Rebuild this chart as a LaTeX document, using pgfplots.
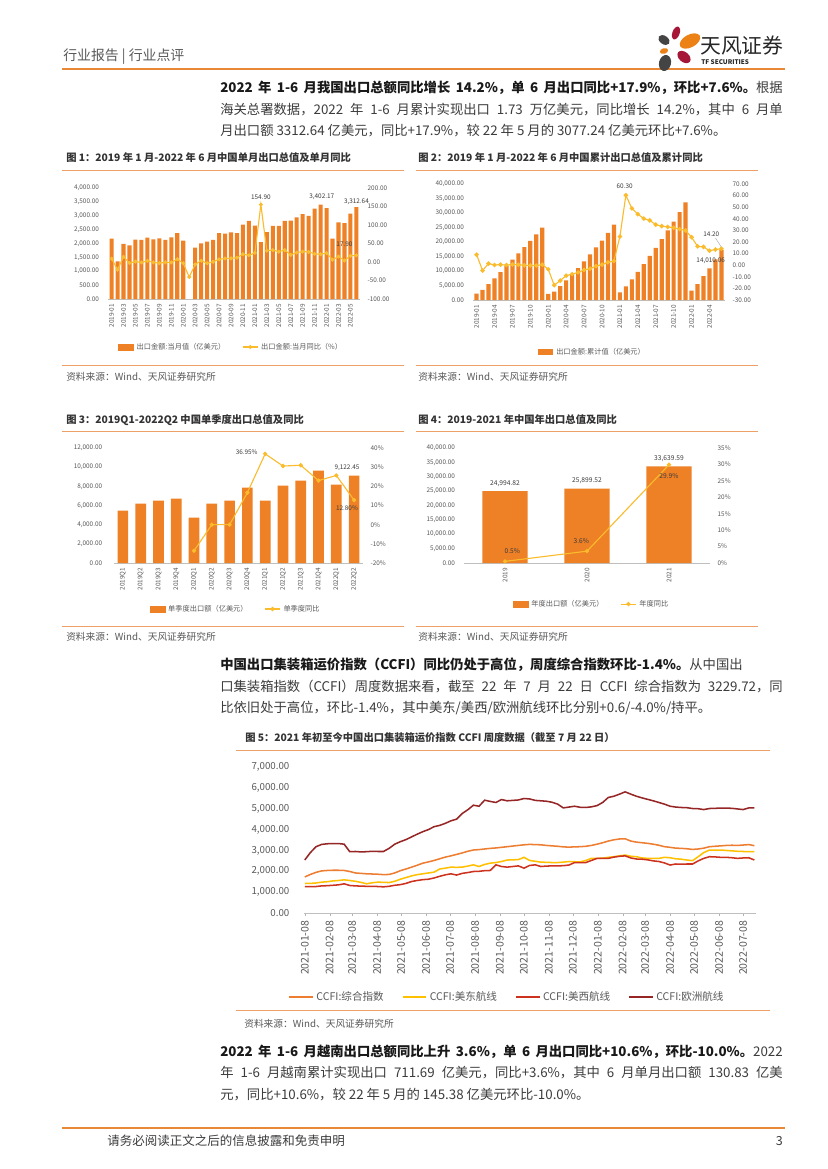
\documentclass[border=0pt]{standalone}
\usepackage{fontspec}
\setmainfont{Noto Sans CJK SC}
\usepackage{pgfplots}
\pgfplotsset{compat=1.18}
\XeTeXlinebreaklocale "zh"
\XeTeXlinebreakskip=0pt plus 1.5pt
\definecolor{barorange}{RGB}{238,128,38}
\definecolor{lineyellow}{RGB}{250,188,45}
\definecolor{hdrorange}{RGB}{233,137,56}
\definecolor{lightorange}{RGB}{238,160,105}
\definecolor{txtgray}{RGB}{89,89,89}
\definecolor{bodygray}{RGB}{60,60,60}
\definecolor{ccfiorange}{RGB}{237,125,49}
\definecolor{ccfiyellow}{RGB}{255,192,0}
\definecolor{ccfired}{RGB}{205,50,30}
\definecolor{ccfidark}{RGB}{150,38,38}
\definecolor{logocrimson}{RGB}{165,22,55}
\definecolor{logoorange}{RGB}{236,130,22}
\definecolor{logogray}{RGB}{68,68,68}
\newcommand\fs[1]{\fontsize{#1}{#1}\selectfont}
\pgfplotsset{
  mybase/.style={scale only axis, anchor=south west, tick style={draw=none},
    ticklabel style={text=txtgray}, y axis line style={draw=none},
    scaled y ticks=false, clip=false, /pgf/number format/assume math mode=true},
  numlab/.style={yticklabel style={/pgf/number format/fixed, /pgf/number format/fixed zerofill,
    /pgf/number format/precision=2, /pgf/number format/1000 sep={,}}},
  pctlab/.style={yticklabel={\pgfmathprintnumber[fixed,precision=0,assume math mode=true]{\tick}\%}},
  shortline/.style={legend image code/.code={\draw[mark repeat=2,mark phase=2,##1] plot coordinates {(0pt,0pt) (5.5pt,0pt) (11pt,0pt)};}},
  barleg/.style={legend image code/.code={\fill[barorange] (0pt,-2.2pt) rectangle (11pt,2.2pt);}},
  smalleg/.style={legend style={font=\fs{5.2}, text=txtgray, draw=none, fill=none, inner sep=0pt,
    anchor=center, /tikz/every even column/.append style={column sep=10pt}, cells={anchor=west}}},
}
\begin{document}
\begin{tikzpicture}[x=0.72pt,y=-0.72pt]
\fill[white] (0,0) rectangle (827,1169);
% ---------- header ----------
\node[anchor=west,inner sep=0,font=\fs{10},text=txtgray] at (63,57) {行业报告 | 行业点评};
\draw[hdrorange,line width=1.2pt] (62,69) -- (785,69);
\fill[logocrimson,rotate around={-20:(676,33)}] (676,33) ellipse [x radius=2.6pt, y radius=4.8pt];
\fill[logoorange,rotate around={28:(690,41)}] (690,41) ellipse [x radius=8pt, y radius=4.6pt];
\fill[logogray,rotate around={-35:(664,40)}] (664,40) ellipse [x radius=4.5pt, y radius=3pt];
\fill[logoorange,rotate around={15:(664,51)}] (664,51) ellipse [x radius=3pt, y radius=2pt];
\fill[logocrimson,rotate around={-40:(684,57)}] (684,57) ellipse [x radius=5.4pt, y radius=3.6pt];
\fill[logogray,rotate around={-15:(665,63)}] (665,63) ellipse [x radius=4.3pt, y radius=5.8pt];
\node[anchor=west,inner sep=0,font=\fs{15},text=black!85] at (700,46) {天风证券};
\node[anchor=west,inner sep=0,font=\fs{4.6}\bfseries,text=black!85] at (701,62) {TF SECURITIES};
% ---------- paragraph 1 ----------
\node[anchor=west,inner sep=0,font=\fs{9.6},text=bodygray] at (220,88) {\makebox[405pt][s]{\textcolor{black!90}{\bfseries 2022 年 1-6 月我国出口总额同比增长 14.2\%，单 6 月出口同比+17.9\%，环比+7.6\%。}根据}};
\node[anchor=west,inner sep=0,font=\fs{9.6},text=bodygray] at (220,110) {\makebox[405pt][s]{海关总署数据，2022 年 1-6 月累计实现出口 1.73 万亿美元，同比增长 14.2\%，其中 6 月单}};
\node[anchor=west,inner sep=0,font=\fs{9.6},text=bodygray] at (220,131) {月出口额 3312.64 亿美元，同比+17.9\%，较 22 年 5 月的 3077.24 亿美元环比+7.6\%。};
% ---------- titles row 1 ----------
\node[anchor=west,inner sep=0,font=\fs{7.4}\bfseries,text=black!80] at (66,158) {图 1：2019 年 1 月-2022 年 6 月中国单月出口总值及单月同比};
\node[anchor=west,inner sep=0,font=\fs{7.4}\bfseries,text=black!80] at (418,158) {图 2：2019 年 1 月-2022 年 6 月中国累计出口总值及累计同比};
\draw[lightorange,line width=0.6pt] (62,170) -- (404,170);
\draw[lightorange,line width=0.6pt] (416,170) -- (758,170);
\draw[lightorange,line width=0.6pt] (62,365) -- (404,365);
\draw[lightorange,line width=0.6pt] (416,365) -- (758,365);
\node[anchor=west,inner sep=0,font=\fs{7},text=txtgray] at (66,377) {资料来源：Wind、天风证券研究所};
\node[anchor=west,inner sep=0,font=\fs{7},text=txtgray] at (418,377) {资料来源：Wind、天风证券研究所};
% ---------- titles row 2 ----------
\node[anchor=west,inner sep=0,font=\fs{7.4}\bfseries,text=black!80] at (66,420) {图 3：2019Q1-2022Q2 中国单季度出口总值及同比};
\node[anchor=west,inner sep=0,font=\fs{7.4}\bfseries,text=black!80] at (418,420) {图 4：2019-2021 年中国年出口总值及同比};
\draw[lightorange,line width=0.6pt] (62,431) -- (404,431);
\draw[lightorange,line width=0.6pt] (416,431) -- (758,431);
\draw[lightorange,line width=0.6pt] (62,626) -- (404,626);
\draw[lightorange,line width=0.6pt] (416,626) -- (758,626);
\node[anchor=west,inner sep=0,font=\fs{7},text=txtgray] at (66,637) {资料来源：Wind、天风证券研究所};
\node[anchor=west,inner sep=0,font=\fs{7},text=txtgray] at (418,637) {资料来源：Wind、天风证券研究所};
% ---------- paragraph 2 ----------
\node[anchor=west,inner sep=0,font=\fs{9.6},text=bodygray] at (220,665) {\makebox[405pt][s]{\textcolor{black!90}{\bfseries 中国出口集装箱运价指数（CCFI）同比仍处于高位，周度综合指数环比-1.4\%。}从中国出}};
\node[anchor=west,inner sep=0,font=\fs{9.6},text=bodygray] at (220,686) {\makebox[405pt][s]{口集装箱指数（CCFI）周度数据来看，截至 22 年 7 月 22 日 CCFI 综合指数为 3229.72，同}};
\node[anchor=west,inner sep=0,font=\fs{9.6},text=bodygray] at (220,708) {比依旧处于高位，环比-1.4\%，其中美东/美西/欧洲航线环比分别+0.6/-4.0\%/持平。};
% ---------- fig 5 title ----------
\node[anchor=west,inner sep=0,font=\fs{7.4}\bfseries,text=black!80] at (245,738) {图 5：2021 年初至今中国出口集装箱运价指数 CCFI 周度数据（截至 7 月 22 日）};
\draw[lightorange,line width=0.6pt] (236,750) -- (770,750);
\draw[lightorange,line width=0.6pt] (236,1010) -- (770,1010);
\node[anchor=west,inner sep=0,font=\fs{7},text=txtgray] at (244,1024) {资料来源：Wind、天风证券研究所};
% ---------- paragraph 3 ----------
\node[anchor=west,inner sep=0,font=\fs{9.6},text=bodygray] at (220,1052) {\makebox[405pt][s]{\textcolor{black!90}{\bfseries 2022 年 1-6 月越南出口总额同比上升 3.6\%，单 6 月出口同比+10.6\%，环比-10.0\%。}2022}};
\node[anchor=west,inner sep=0,font=\fs{9.6},text=bodygray] at (220,1073) {\makebox[405pt][s]{年 1-6 月越南累计实现出口 711.69 亿美元，同比+3.6\%，其中 6 月单月出口额 130.83 亿美}};
\node[anchor=west,inner sep=0,font=\fs{9.6},text=bodygray] at (220,1095) {元，同比+10.6\%，较 22 年 5 月的 145.38 亿美元环比-10.0\%。};
% ---------- footer ----------
\draw[hdrorange,line width=1.4pt] (62,1128) -- (785,1128);
\node[anchor=west,inner sep=0,font=\fs{9},text=bodygray] at (107,1141) {请务必阅读正文之后的信息披露和免责申明};
\node[anchor=east,inner sep=0,font=\fs{9},text=bodygray] at (783,1141) {3};

% ================= Chart 1 =================
\begin{axis}[mybase, numlab, at={(77.76pt,-215.28pt)}, width=181.44pt, height=79.92pt,
  xmin=0.4, xmax=42.6, ymin=0, ymax=4000, ytick={0,500,...,4000},
  axis x line*=bottom, axis y line*=left, x axis line style={draw=gray!50,-},
  xtick={1,3,...,41},
  xticklabels={2019-01,2019-03,2019-05,2019-07,2019-09,2019-11,2020-01,2020-03,2020-05,2020-07,2020-09,2020-11,2021-01,2021-03,2021-05,2021-07,2021-09,2021-11,2022-01,2022-03,2022-05},
  xticklabel style={rotate=90, anchor=east, font=\fs{4.6}},
  yticklabel style={font=\fs{4.6}, xshift=-3pt}]
\addplot[ybar, bar width=0.68, fill=barorange, draw=none] coordinates {
(1,2175) (2,1354) (3,1986) (4,1932) (5,2138) (6,2128) (7,2215) (8,2148) (9,2182) (10,2129) (11,2217) (12,2377)
(13,2100) (15,1851) (16,2003) (17,2068) (18,2135) (19,2374) (20,2354) (21,2397) (22,2371) (23,2680) (24,2819)
(25,2640) (26,2050) (27,2413) (28,2639) (29,2639) (30,2814) (31,2826) (32,2943) (33,3057) (34,2997) (35,3254) (36,3402.17)
(37,3273) (38,2173) (39,2761) (40,2736) (41,3077.24) (42,3312.64)};
\node[font=\fs{4.6},text=bodygray] at (axis cs:36.2,3675) {3,402.17};
\node[font=\fs{4.6},text=bodygray] at (axis cs:42,3494) {3,312.64};
\end{axis}
\begin{axis}[mybase, numlab, smalleg, at={(77.76pt,-215.28pt)}, width=181.44pt, height=79.92pt,
  xmin=0.4, xmax=42.6, ymin=-100, ymax=200, ytick={-100,-50,...,200},
  axis y line*=right, axis x line=none,
  yticklabel style={font=\fs{4.6}, xshift=2pt},
  legend style={at={(0.49,-0.432)}}, legend columns=2]
\addlegendimage{barleg}
\addlegendentry{出口金额:当月值（亿美元）}
\addplot[lineyellow, line width=0.8pt, mark=*, mark size=1pt, shortline] coordinates {
(1,9.1) (2,-20.7) (3,14.2) (4,-2.7) (5,1.1) (6,-1.3) (7,3.3) (8,-1.0) (9,-3.2) (10,-0.9) (11,-1.1) (12,7.6)
(13,-3.5) (14,-40.6) (15,-6.6) (16,3.5) (17,-3.3) (18,0.5) (19,7.2) (20,9.5) (21,9.9) (22,11.4) (23,21.1) (24,18.1)
(25,24.7) (26,154.9) (27,30.6) (28,32.3) (29,27.9) (30,32.2) (31,19.3) (32,25.6) (33,28.1) (34,27.1) (35,22.0) (36,20.9)
(37,24.1) (38,6.2) (39,14.7) (40,3.9) (41,16.9) (42,17.9)};
\addlegendentry{出口金额:当月同比（\%）}
\node[font=\fs{4.6},text=bodygray] at (axis cs:26,174) {154.90};
\node[font=\fs{4.6},text=bodygray] at (axis cs:40,48.6) {17.90};
\end{axis}

% ================= Chart 2 =================
\begin{axis}[mybase, numlab, smalleg, at={(340.56pt,-216pt)}, width=181.44pt, height=83.52pt,
  xmin=0.4, xmax=42.6, ymin=0, ymax=40000, ytick={0,5000,...,40000},
  axis x line*=bottom, axis y line*=left, x axis line style={draw=gray!50,-},
  xtick={1,4,...,40},
  xticklabels={2019-01,2019-04,2019-07,2019-10,2020-01,2020-04,2020-07,2020-10,2021-01,2021-04,2021-07,2021-10,2022-01,2022-04},
  xticklabel style={rotate=90, anchor=east, font=\fs{4.6}},
  yticklabel style={font=\fs{4.6}, xshift=-3pt},
  legend style={at={(0.476,-0.448)}}]
\addplot[ybar, bar width=0.7, fill=barorange, draw=none, barleg] coordinates {
(1,2175) (2,3529) (3,5515) (4,7447) (5,9585) (6,11713) (7,13928) (8,16076) (9,18258) (10,20387) (11,22604) (12,24984)
(13,2100) (14,2924) (15,4775) (16,6781) (17,8849) (18,10984) (19,13358) (20,15711) (21,18108) (22,20479) (23,23159) (24,25978)
(25,2640) (26,4687) (27,7100) (28,9739) (29,12378) (30,15192) (31,18018) (32,20961) (33,24018) (34,27015) (35,30269) (36,33671)
(37,3273) (38,5446) (39,8207) (40,10943) (41,14010.06) (42,17323)};
\addlegendentry{出口金额:累计值（亿美元）}
\node[font=\fs{4.6},text=bodygray] at (axis cs:40.2,13563) {14,010.06};
\end{axis}
\begin{axis}[mybase, numlab, at={(340.56pt,-216pt)}, width=181.44pt, height=83.52pt,
  xmin=0.4, xmax=42.6, ymin=-30, ymax=70, ytick={-30,-20,...,70},
  axis y line*=right, axis x line=none,
  yticklabel style={font=\fs{4.6}, xshift=2pt}]
\addplot[lineyellow, line width=0.8pt, mark=*, mark size=1.2pt] coordinates {
(1,9.1) (2,-4.6) (3,1.4) (4,0.2) (5,0.5) (6,0.1) (7,0.6) (8,0.4) (9,-0.1) (10,-0.2) (11,-0.3) (12,0.5)
(13,-3.5) (14,-17.2) (15,-13.3) (16,-9.0) (17,-7.7) (18,-6.2) (19,-4.1) (20,-3.0) (21,-0.8) (22,0.5) (23,2.5) (24,3.6)
(25,24.7) (26,60.3) (27,49.0) (28,44.0) (29,40.2) (30,38.6) (31,35.0) (32,33.7) (33,33.0) (34,32.3) (35,31.1) (36,29.9)
(37,24.1) (38,16.3) (39,15.8) (40,12.5) (41,13.5) (42,14.2)};
\node[font=\fs{4.6},text=bodygray] at (axis cs:25.8,68.3) {60.30};
\node[font=\fs{4.6},text=bodygray] at (axis cs:40.3,26.3) {14.20};
\draw[gray!70,line width=0.3pt] (axis cs:41,23.5) -- (axis cs:42,15.5);
\end{axis}

% ================= Chart 3 =================
\begin{axis}[mybase, numlab, at={(82.08pt,-405.36pt)}, width=179.28pt, height=82.8pt,
  xmin=0.5, xmax=14.5, ymin=0, ymax=12000, ytick={0,2000,...,12000},
  axis x line*=bottom, axis y line*=left, x axis line style={draw=gray!50,-},
  xtick={1,...,14},
  xticklabels={2019Q1,2019Q2,2019Q3,2019Q4,2020Q1,2020Q2,2020Q3,2020Q4,2021Q1,2021Q2,2021Q3,2021Q4,2022Q1,2022Q2},
  xticklabel style={rotate=90, anchor=east, font=\fs{4.6}},
  yticklabel style={font=\fs{4.6}, xshift=-5pt}]
\addplot[ybar, bar width=0.6, fill=barorange, draw=none] coordinates {
(1,5460) (2,6190) (3,6500) (4,6710) (5,4730) (6,6190) (7,6500) (8,7860) (9,6500) (10,8070) (11,8590) (12,9630) (13,8170) (14,9122.45)};
\node[font=\fs{4.6},text=bodygray] at (axis cs:13.6,9913) {9,122.45};
\end{axis}
\begin{axis}[mybase, smalleg, at={(82.08pt,-405.36pt)}, width=179.28pt, height=82.8pt,
  xmin=0.5, xmax=14.5, ymin=-20, ymax=40, ytick={-20,-10,...,40}, pctlab,
  axis y line*=right, axis x line=none,
  yticklabel style={font=\fs{4.6}, xshift=2pt},
  legend style={at={(0.49,-0.40)}}, legend columns=2]
\addlegendimage{barleg}
\addlegendentry{单季度出口额（亿美元）}
\addplot[lineyellow, line width=0.8pt, mark=*, mark size=1.1pt, shortline] coordinates {
(5,-13.6) (6,0) (7,0) (8,16.7) (9,36.95) (10,30.6) (11,31.0) (12,23.0) (13,25.7) (14,12.8)};
\addlegendentry{单季度同比}
\node[font=\fs{4.6},text=bodygray] at (axis cs:7.96,37.7) {36.95\%};
\node[font=\fs{4.6},text=bodygray] at (axis cs:13.6,8.7) {12.80\%};
\end{axis}

% ================= Chart 4 =================
\begin{axis}[mybase, numlab, at={(334.08pt,-405.36pt)}, width=177.12pt, height=82.8pt,
  xmin=0.5, xmax=3.5, ymin=0, ymax=40000, ytick={0,5000,...,40000},
  axis x line*=bottom, axis y line*=left, x axis line style={draw=gray!50,-},
  xtick={1,2,3}, xticklabels={2019,2020,2021},
  xticklabel style={rotate=90, anchor=east, font=\fs{4.6}},
  yticklabel style={font=\fs{4.6}, xshift=-3pt}]
\addplot[ybar, bar width=0.55, fill=barorange, draw=none] coordinates {(1,24994.82) (2,25899.52) (3,33639.59)};
\node[font=\fs{4.8},text=bodygray] at (axis cs:1,27666) {24,994.82};
\node[font=\fs{4.8},text=bodygray] at (axis cs:2,28473) {25,899.52};
\node[font=\fs{4.8},text=bodygray] at (axis cs:3,36311) {33,639.59};
\end{axis}
\begin{axis}[mybase, smalleg, at={(334.08pt,-405.36pt)}, width=177.12pt, height=82.8pt,
  xmin=0.5, xmax=3.5, ymin=0, ymax=35, ytick={0,5,...,35}, pctlab,
  axis y line*=right, axis x line=none,
  yticklabel style={font=\fs{4.6}, xshift=2pt},
  legend style={at={(0.52,-0.357)}}, legend columns=2]
\addlegendimage{barleg}
\addlegendentry{年度出口额（亿美元）}
\addplot[lineyellow, line width=0.8pt, mark=*, mark size=1.1pt, shortline] coordinates {(1,0.5) (2,3.6) (3,29.9)};
\addlegendentry{年度同比}
\node[font=\fs{4.8},text=bodygray] at (axis cs:1.09,3.5) {0.5\%};
\node[font=\fs{4.8},text=bodygray] at (axis cs:1.93,6.6) {3.6\%};
\node[font=\fs{4.8},text=bodygray] at (axis cs:3,26.5) {29.9\%};
\end{axis}

% ================= Chart 5 =================
\begin{axis}[mybase, numlab, at={(218.88pt,-657.36pt)}, width=325.44pt, height=105.12pt,
  xmin=-1, xmax=562, ymin=0, ymax=7000, ytick={0,1000,...,7000},
  axis x line*=bottom, axis y line*=left, x axis line style={draw=gray!50,-},
  xtick={0,31,59,90,120,151,181,212,243,273,304,334,365,396,424,455,485,516,546},
  xticklabels={2021-01-08,2021-02-08,2021-03-08,2021-04-08,2021-05-08,2021-06-08,2021-07-08,2021-08-08,2021-09-08,2021-10-08,2021-11-08,2021-12-08,2022-01-08,2022-02-08,2022-03-08,2022-04-08,2022-05-08,2022-06-08,2022-07-08},
  xtick style={draw=gray!60}, major tick length=2pt, tick align=outside,
  xticklabel style={rotate=90, anchor=east, font=\fs{7.6}},
  yticklabel style={font=\fs{7}, xshift=-5pt},
  legend style={at={(0.45,-0.575)}, anchor=center, font=\fs{7.6}, text=txtgray, draw=none, fill=none, inner sep=0pt,
    /tikz/every even column/.append style={column sep=11pt}, cells={anchor=west}},
  legend columns=4]
\addplot[ccfiorange, line width=1.1pt] coordinates {
(0,1730) (7,1850) (14,1950) (21,2020) (28,2040) (35,2050) (42,2050) (49,2040) (56,1990) (63,1920) (70,1900) (77,1880) (84,1870) (91,1860) (98,1840) (105,1850) (112,1920) (119,2030) (126,2110) (133,2200) (140,2290) (147,2390) (154,2450) (161,2520) (168,2600) (175,2680) (182,2740) (189,2810) (196,2880) (203,2960) (210,3020) (217,3040) (224,3070) (231,3100) (238,3120) (245,3150) (252,3180) (259,3210) (266,3240) (273,3270) (280,3290) (287,3280) (294,3270) (301,3240) (308,3220) (315,3200) (322,3170) (329,3160) (336,3170) (343,3180) (350,3200) (357,3240) (364,3300) (371,3370) (378,3450) (385,3510) (392,3550) (399,3560) (406,3450) (413,3400) (420,3370) (427,3340) (434,3300) (441,3250) (448,3180) (455,3150) (462,3110) (469,3100) (476,3080) (483,3050) (490,3070) (497,3110) (504,3180) (511,3200) (518,3220) (525,3240) (532,3250) (539,3240) (546,3260) (553,3280) (560,3230)};
\addlegendentry{CCFI:综合指数}
\addplot[ccfiyellow, line width=1.1pt] coordinates {
(0,1415) (7,1420) (14,1440) (21,1480) (28,1500) (35,1540) (42,1560) (49,1590) (56,1560) (63,1520) (70,1470) (77,1400) (84,1450) (91,1480) (98,1470) (105,1460) (112,1520) (119,1620) (126,1700) (133,1780) (140,1840) (147,1880) (154,1920) (161,1960) (168,2110) (175,2150) (182,2200) (189,2190) (196,2200) (203,2250) (210,2310) (217,2230) (224,2330) (231,2390) (238,2420) (245,2470) (252,2540) (259,2550) (266,2560) (273,2670) (280,2520) (287,2480) (294,2440) (301,2430) (308,2420) (315,2420) (322,2440) (329,2470) (336,2460) (343,2450) (350,2520) (357,2620) (364,2620) (371,2630) (378,2670) (385,2700) (392,2740) (399,2780) (406,2720) (413,2700) (420,2640) (427,2620) (434,2620) (441,2620) (448,2670) (455,2650) (462,2600) (469,2580) (476,2540) (483,2510) (490,2700) (497,2900) (504,3020) (511,3020) (518,3020) (525,3000) (532,2980) (539,2960) (546,2950) (553,2940) (560,2940)};
\addlegendentry{CCFI:美东航线}
\addplot[ccfired, line width=1.1pt] coordinates {
(0,1270) (7,1265) (14,1270) (21,1300) (28,1310) (35,1330) (42,1350) (49,1400) (56,1320) (63,1300) (70,1290) (77,1280) (84,1280) (91,1270) (98,1255) (105,1280) (112,1330) (119,1360) (126,1420) (133,1510) (140,1560) (147,1600) (154,1620) (161,1680) (168,1760) (175,1830) (182,1880) (189,1820) (196,1900) (203,1940) (210,1990) (217,2000) (224,2030) (231,2040) (238,2310) (245,2230) (252,2200) (259,2230) (266,2260) (273,2150) (280,2280) (287,2310) (294,2230) (301,2250) (308,2260) (315,2260) (322,2270) (329,2300) (336,2420) (343,2420) (350,2420) (357,2520) (364,2620) (371,2620) (378,2620) (385,2680) (392,2720) (399,2740) (406,2640) (413,2590) (420,2580) (427,2550) (434,2500) (441,2470) (448,2400) (455,2300) (462,2350) (469,2340) (476,2350) (483,2350) (490,2500) (497,2620) (504,2700) (511,2690) (518,2670) (525,2670) (532,2650) (539,2620) (546,2640) (553,2650) (560,2540)};
\addlegendentry{CCFI:美西航线}
\addplot[ccfidark, line width=1.1pt] coordinates {
(0,2545) (7,2900) (14,3180) (21,3290) (28,3320) (35,3330) (42,3330) (49,3300) (56,2940) (63,2950) (70,2930) (77,2940) (84,2960) (91,2950) (98,2950) (105,3100) (112,3300) (119,3420) (126,3520) (133,3650) (140,3780) (147,3900) (154,4000) (161,4140) (168,4200) (175,4300) (182,4420) (189,4500) (196,4770) (203,4950) (210,5170) (217,5120) (224,5410) (231,5350) (238,5300) (245,5440) (252,5380) (259,5400) (266,5420) (273,5490) (280,5470) (287,5400) (294,5380) (301,5360) (308,5310) (315,5220) (322,5040) (329,5080) (336,5120) (343,5070) (350,5060) (357,5090) (364,5150) (371,5300) (378,5540) (385,5600) (392,5700) (399,5810) (406,5700) (413,5600) (420,5520) (427,5450) (434,5380) (441,5300) (448,5220) (455,5120) (462,5080) (469,5060) (476,5050) (483,5010) (490,5000) (497,4960) (504,5010) (511,5020) (518,5030) (525,5030) (532,5020) (539,4990) (546,4960) (553,5040) (560,5040)};
\addlegendentry{CCFI:欧洲航线}
\end{axis}
\end{tikzpicture}
\end{document}
